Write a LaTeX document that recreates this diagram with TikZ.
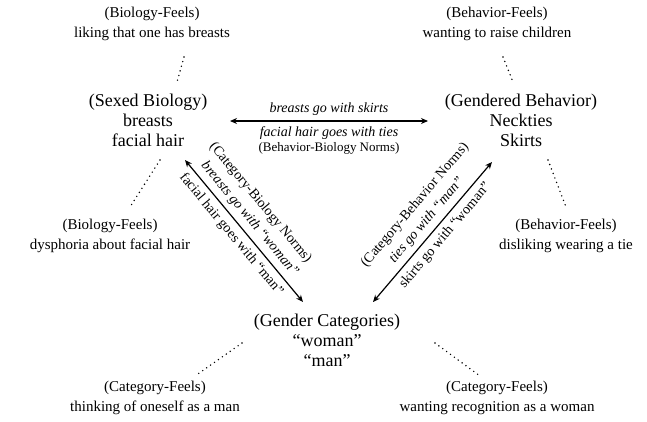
\documentclass[tikz,border=0pt]{standalone}
\usepackage{fontspec}
\setmainfont{Liberation Serif}
\usetikzlibrary{arrows.meta}
\begin{document}
\begin{tikzpicture}[x=1pt,y=-1pt,
  mainbox/.style={align=center,inner sep=0pt,font=\fontsize{18}{20}\selectfont},
  feelbox/.style={align=center,inner sep=0pt,font=\fontsize{15}{19.5}\selectfont},
  lab/.style={font=\fontsize{14}{16}\selectfont,inner sep=1pt},
  ilab/.style={lab,font=\fontsize{14}{16}\selectfont\itshape},
  nlab/.style={font=\fontsize{13}{15}\selectfont,inner sep=1pt},
  dots/.style={line width=1.6pt,line cap=round,dash pattern=on 0pt off 4.8pt},
  arr/.style={line width=1.2pt,{Stealth[length=7pt,width=6pt]}-{Stealth[length=7pt,width=6pt]}}]
\useasboundingbox (0,0) rectangle (647,421);
% main nodes
\node[mainbox] (sb) at (148,120) {(Sexed Biology)\\breasts\\facial hair};
\node[mainbox] (gb) at (521,120) {(Gendered Behavior)\\Neckties\\Skirts};
\node[mainbox] (gc) at (327,340) {(Gender Categories)\\“woman”\\“man”};
% feels nodes
\node[feelbox] (bf1) at (152,24) {(Biology-Feels)\\liking that one has breasts};
\node[feelbox] (hf1) at (497,24) {(Behavior-Feels)\\wanting to raise children};
\node[feelbox] (bf2) at (110,236) {(Biology-Feels)\\dysphoria about facial hair};
\node[feelbox] (hf2) at (566,236) {(Behavior-Feels)\\disliking wearing a tie};
\node[feelbox] (cf1) at (155,398) {(Category-Feels)\\thinking of oneself as a man};
\node[feelbox] (cf2) at (497,398) {(Category-Feels)\\wanting recognition as a woman};
% connector ends
\coordinate (d1a) at (184,57); \coordinate (d1b) at (177,82);
\coordinate (d2a) at (503,57); \coordinate (d2b) at (513,82);
\coordinate (d3a) at (160,160); \coordinate (d3b) at (130,207);
\coordinate (d4a) at (548,160); \coordinate (d4b) at (566,207);
\coordinate (d5a) at (242,343); \coordinate (d5b) at (195,376);
\coordinate (d6a) at (435,343); \coordinate (d6b) at (480,376);
\coordinate (hl) at (230,121); \coordinate (hr) at (428,121);
\coordinate (lt) at (185,160); \coordinate (lb) at (303,302);
\coordinate (rb) at (373,302); \coordinate (rt) at (492,162);
% dotted links
\draw[dots] (d1a) -- (d1b);
\draw[dots] (d2a) -- (d2b);
\draw[dots] (d3a) -- (d3b);
\draw[dots] (d4a) -- (d4b);
\draw[dots] (d5a) -- (d5b);
\draw[dots] (d6a) -- (d6b);
% norm arrows
\draw[arr] (hl) -- (hr)
  node[ilab,midway,above=4pt] {breasts go with skirts}
  node[ilab,midway,below=4pt] (hb) {facial hair goes with ties};
\node[nlab,anchor=north] (bbn) at (hb.south) {(Behavior-Biology Norms)};
\draw[arr] (lt) -- (lb)
  node[ilab,pos=0.47,sloped,above=4pt] (l1) {breasts go with “woman”}
  node[lab,pos=0.47,sloped,below=4pt] {facial hair goes with “man”};
\path (lt) -- (lb) node[lab,pos=0.44,sloped,above=23pt] {(Category-Biology Norms)};
\draw[arr] (rb) -- (rt)
  node[ilab,pos=0.53,sloped,above=4pt] {ties go with “man”}
  node[lab,pos=0.53,sloped,below=4pt] {skirts go with “woman”};
\path (rb) -- (rt) node[lab,pos=0.55,sloped,above=23pt] {(Category-Behavior Norms)};
\end{tikzpicture}
\end{document}
